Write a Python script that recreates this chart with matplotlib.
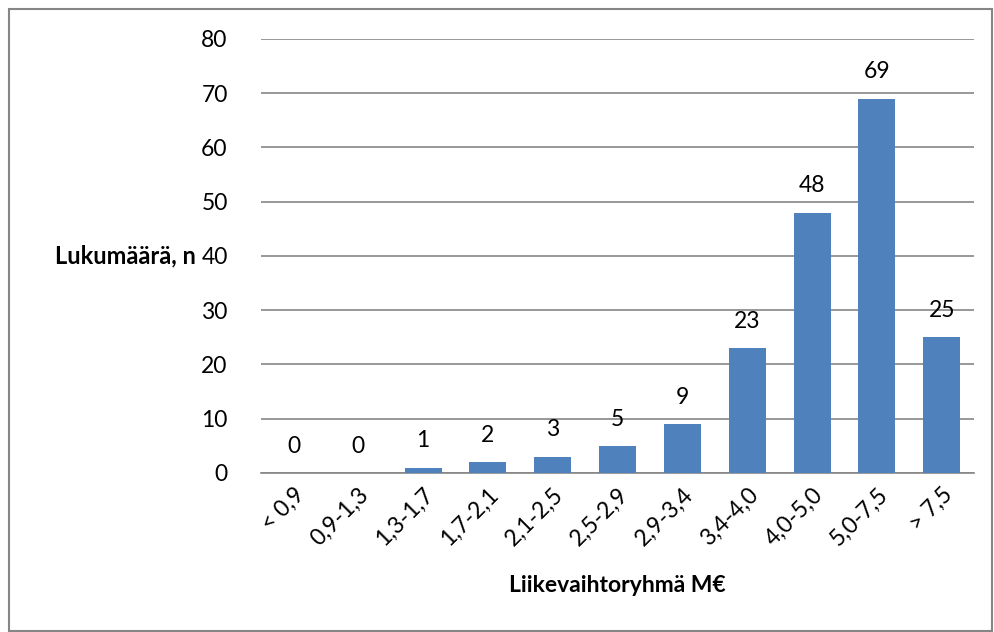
import numpy as np
import matplotlib.pyplot as plt
from matplotlib.patches import Rectangle

plt.rcParams['font.family'] = ['Lato', 'DejaVu Sans']

categories = ['< 0,9', '0,9-1,3', '1,3-1,7', '1,7-2,1', '2,1-2,5', '2,5-2,9',
              '2,9-3,4', '3,4-4,0', '4,0-5,0', '5,0-7,5', '> 7,5']
counts = [0, 0, 1, 2, 3, 5, 9, 23, 48, 69, 25]

fig = plt.figure(figsize=(9.94, 6.32), dpi=100)
ax = fig.add_axes([0.2626, 0.2516, 0.7174, 0.6867])

x = np.arange(len(categories))
bars = ax.bar(x, counts, width=0.57, color='#4F81BD', zorder=3)
for xi, v in zip(x, counts):
    ax.text(xi, v + 3.0, str(v), ha='center', va='bottom', fontsize=16.5)

ax.set_xlim(-0.5, len(categories) - 0.5)
ax.set_ylim(0, 80)
ax.set_yticks(range(0, 81, 10))
ax.yaxis.grid(True, color='#868686', linewidth=1.2, zorder=0)
ax.tick_params(axis='y', length=0, pad=24, labelsize=16.5)
ax.tick_params(axis='x', length=0, pad=8, labelsize=16.5)
ax.set_xticks(x)
ax.set_xticklabels(categories, rotation=45, ha='right', rotation_mode='anchor')

for s in ['top', 'right', 'left']:
    ax.spines[s].set_visible(False)
ax.spines['bottom'].set_color('#868686')
ax.spines['bottom'].set_linewidth(1.2)

ax.set_xlabel('Liikevaihtoryhmä M€', fontsize=16.5, fontweight='bold', labelpad=18)
fig.text(196 / 994, 1 - 256 / 632, 'Lukumäärä, n', ha='right', va='center',
         fontsize=17, fontweight='bold')

fig.patches.append(Rectangle((9 / 994, 0.002), 983 / 994, 1 - 9 / 632 - 0.002,
                             transform=fig.transFigure, fill=False,
                             edgecolor='#868686', linewidth=1.5))

fig.savefig('out.png', dpi=100)
